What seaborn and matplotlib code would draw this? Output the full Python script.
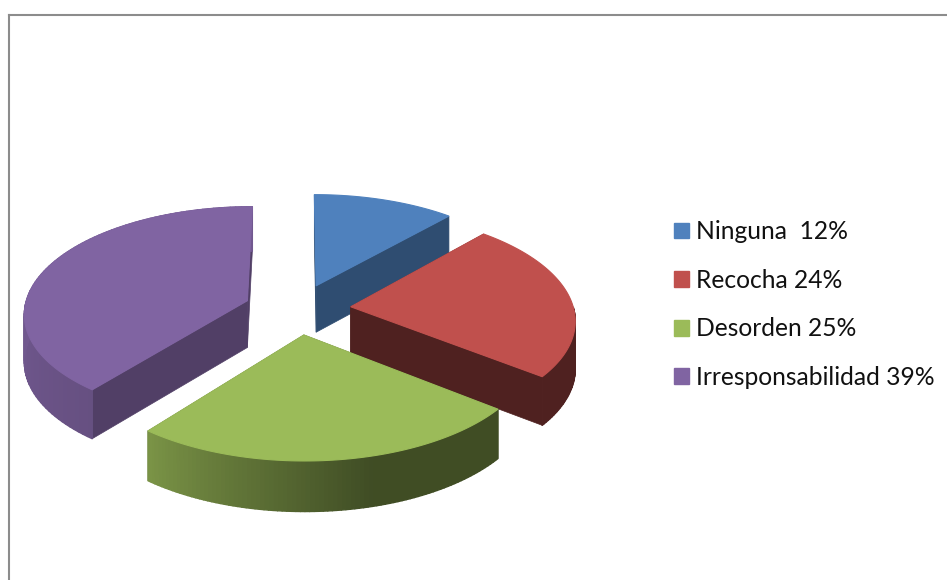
import numpy as np
import seaborn as sns
from matplotlib import pyplot as plt
from matplotlib.collections import PolyCollection
from matplotlib.patches import Patch

categories = ['Ninguna ', 'Recocha', 'Desorden', 'Irresponsabilidad']
values = [11.6, 24.0, 25.1, 39.3]
colors = ['#4F81BD', '#C0504D', '#9BBB59', '#8064A2']
wall_shade = [0.60, 0.41, 0.41, 0.63]
draw_order = [0, 3, 1, 2]

# pie geometry in pixels, perspective squeezes the back of the pie
cx, cy = 297.5, 309
rx, ry = 223, 106
depth = 47
persp = 0.11
explode = 0.24


def project(x, y, z=0.0):
    s = 1 / (1 + persp * y)
    return cx + rx * x * s, cy - ry * y * s + depth * z * np.sqrt(s)


def side_shade(theta):
    # light falls from the left, the right side of the rim is dark
    return np.interp(theta, [90, 165, 220, 270, 360], [0.41, 0.41, 0.80, 0.88, 0.88])


def quad(p, q):
    return [project(*p), project(*q), project(*q, 1), project(*p, 1)]


sns.set_theme(style='white')
plt.rcParams['font.family'] = ['Lato', 'DejaVu Sans']

fig = plt.figure(figsize=(9.47, 5.8), dpi=100)
ax = fig.add_axes([9 / 947, 0, 938 / 947, 565 / 580])
ax.set_xlim(9, 947)
ax.set_ylim(580, 15)
ax.set_xticks([])
ax.set_yticks([])
for side in ['right', 'bottom']:
    ax.spines[side].set_visible(False)
for side in ['left', 'top']:
    ax.spines[side].set_color('#8c8c8c')
    ax.spines[side].set_linewidth(1.5)

palette = sns.color_palette(colors)
edges = np.concatenate([[0], np.cumsum(values)]) / sum(values) * 360

for i in draw_order:
    start, end = edges[i], edges[i + 1]
    mid = np.radians((start + end) / 2)
    ox, oy = explode * np.sin(mid), explode * np.cos(mid)
    theta = np.linspace(start, end, 90)
    xs = ox + np.sin(np.radians(theta))
    ys = oy + np.cos(np.radians(theta))
    color = np.array(palette[i])

    # radial walls
    for k in [0, -1]:
        ax.fill(*zip(*quad((ox, oy), (xs[k], ys[k]))),
                color=color * wall_shade[i], lw=0.5)

    # outer rim, only the part that faces the viewer
    keep = [k for k in range(len(theta) - 1) if theta[k] >= 90]
    if keep:
        polys = [quad((xs[k], ys[k]), (xs[k + 1], ys[k + 1])) for k in keep]
        shades = side_shade((theta[keep] + theta[np.array(keep) + 1]) / 2)
        rim = [tuple(color * s) for s in shades]
        ax.add_collection(PolyCollection(polys, facecolors=rim, edgecolors=rim, linewidths=1.0))

    # top face
    top_x, top_y = project(np.r_[ox, xs], np.r_[oy, ys])
    ax.fill(top_x, top_y, color=color, lw=0.8)

handles = [Patch(color=c) for c in palette]
labels = [f'{c} {round(v)}%' for c, v in zip(categories, values)]
ax.legend(handles, labels, loc='center left', bbox_to_anchor=(674, 304.5),
          bbox_transform=ax.transData, frameon=False, fontsize=17.7,
          borderpad=0, borderaxespad=0, handlelength=0.61, handleheight=0.61,
          handletextpad=0.29, labelspacing=1.04, labelcolor='#111111')

fig.savefig('out.png', dpi=100)
